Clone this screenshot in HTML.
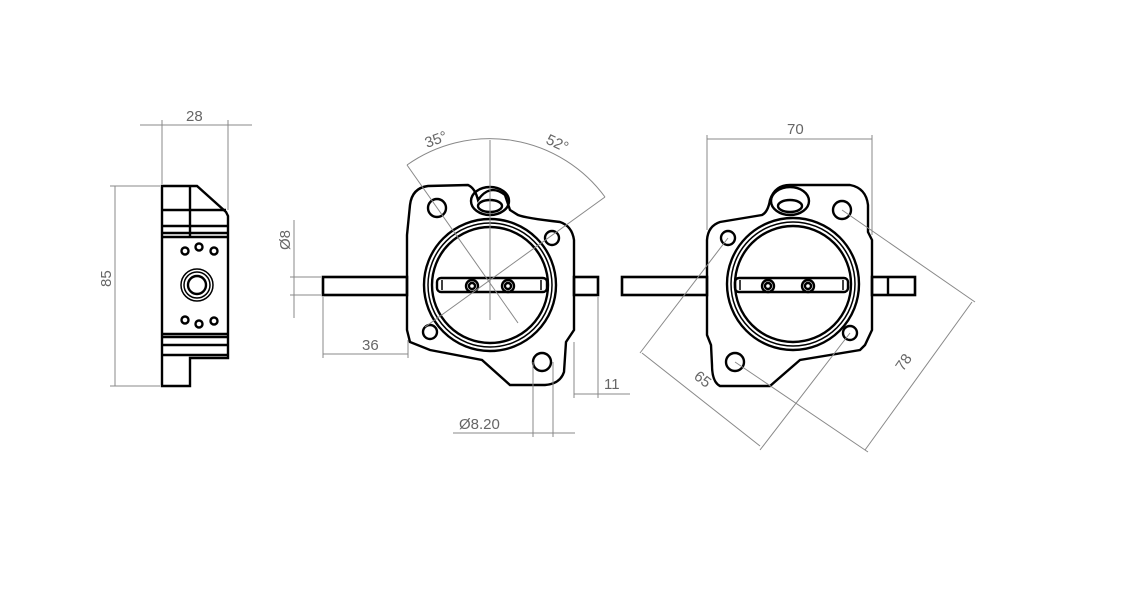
<!DOCTYPE html>
<html><head><meta charset="utf-8"><style>
html,body{margin:0;padding:0;background:#fff;}
svg{display:block}
text{font-family:"Liberation Sans",sans-serif;font-size:15px;fill:#666;}
.o{fill:none;stroke:#000;stroke-width:2.4;}
.d{fill:none;stroke:#888;stroke-width:1;}
</style></head><body>
<svg width="1134" height="600" viewBox="0 0 1134 600">
<!-- LEFT VIEW -->
<g class="o">
<path d="M162,186 L197,186 L226,212 L228,216 L228,358 L190,358 L190,386 L162,386 Z"/>
<line x1="190" y1="186" x2="190" y2="237"/>
<line x1="162" y1="210" x2="226" y2="210"/>
<line x1="162" y1="226" x2="228" y2="226"/>
<line x1="162" y1="233" x2="228" y2="233"/>
<line x1="162" y1="237" x2="228" y2="237"/>
<line x1="162" y1="334" x2="228" y2="334"/>
<line x1="162" y1="337" x2="228" y2="337"/>
<line x1="162" y1="345" x2="228" y2="345"/>
<line x1="162" y1="355" x2="228" y2="355"/>
<circle cx="185" cy="251" r="3.5"/><circle cx="199" cy="247" r="3.5"/><circle cx="214" cy="251" r="3.5"/>
<circle cx="185" cy="320" r="3.5"/><circle cx="199" cy="324" r="3.5"/><circle cx="214" cy="321" r="3.5"/>
<circle cx="197" cy="285" r="16" stroke-width="1.5"/><circle cx="197" cy="285" r="13" stroke-width="1.5"/><circle cx="197" cy="285" r="9"/>
</g>
<g class="d">
<line x1="140" y1="125" x2="252" y2="125"/>
<line x1="162" y1="120" x2="162" y2="184"/>
<line x1="228" y1="120" x2="228" y2="210"/>
<line x1="115" y1="186" x2="115" y2="386"/>
<line x1="110" y1="186" x2="160" y2="186"/>
<line x1="110" y1="386" x2="160" y2="386"/>
</g>
<text x="186" y="121">28</text>
<text transform="translate(111,287) rotate(-90)">85</text>

<!-- MIDDLE VIEW -->
<g class="o">
<path d="M407,235 L410,205 Q412,188 428,186 L468,185 Q475,188 478,200 Q490,183 505,195 L510,210 L518,215 Q525,218 560,222 Q572,226 574,240 L574,330 L566,342 L564,372 Q560,384 545,385 L510,385 L482,360 L430,350 L410,342 L407,330 Z"/>
<ellipse cx="490" cy="201" rx="19" ry="14"/>
<ellipse cx="490" cy="206" rx="12" ry="6"/>
<circle cx="490" cy="285" r="66"/>
<circle cx="490" cy="285" r="62" stroke-width="1.5"/>
<circle cx="490" cy="285" r="58"/>
<rect x="437" y="278" width="110" height="14" rx="4"/>
<line x1="442" y1="280" x2="442" y2="290" stroke-width="1.5"/>
<line x1="541" y1="280" x2="541" y2="290" stroke-width="1.5"/>
<circle cx="472" cy="286" r="6"/><circle cx="472" cy="286" r="3"/>
<circle cx="508" cy="286" r="6"/><circle cx="508" cy="286" r="3"/>
<circle cx="437" cy="208" r="9"/>
<circle cx="552" cy="238" r="7"/>
<circle cx="430" cy="332" r="7"/>
<circle cx="542" cy="362" r="9"/>
<rect x="323" y="277" width="84" height="18" stroke-width="2.6"/>
<rect x="574" y="277" width="24" height="18" stroke-width="2.6"/>
</g>
<g class="d">
<line x1="490" y1="140" x2="490" y2="320"/>
<line x1="407" y1="165" x2="518" y2="323"/>
<line x1="605" y1="197" x2="425" y2="327"/>
<path d="M407,165 A143,143 0 0 1 605,197"/>
<line x1="294" y1="220" x2="294" y2="318"/>
<line x1="290" y1="277" x2="321" y2="277"/>
<line x1="290" y1="295" x2="321" y2="295"/>
<line x1="323" y1="297" x2="323" y2="358"/>
<line x1="408" y1="340" x2="408" y2="358"/>
<line x1="323" y1="354" x2="408" y2="354"/>
<line x1="574" y1="342" x2="574" y2="398"/>
<line x1="598" y1="297" x2="598" y2="398"/>
<line x1="574" y1="394" x2="630" y2="394"/>
<line x1="533" y1="362" x2="533" y2="437"/>
<line x1="553" y1="362" x2="553" y2="437"/>
<line x1="453" y1="433" x2="575" y2="433"/>
</g>
<text transform="translate(290,250) rotate(-90)">Ø8</text>
<text transform="translate(427,148) rotate(-20)">35°</text>
<text transform="translate(545,143) rotate(25)">52°</text>
<text x="362" y="350">36</text>
<text x="604" y="389">11</text>
<text x="459" y="429">Ø8.20</text>

<!-- RIGHT VIEW -->
<g class="o">
<path d="M707,240 Q708,226 720,222 L762,215 Q768,212 770,200 Q775,185 790,185 L850,185 Q866,188 868,205 L868,232 L872,240 L872,330 L865,345 L860,350 L800,360 L770,386 L720,386 Q712,382 712,365 L711,345 L707,335 Z"/>
<ellipse cx="790" cy="201" rx="19" ry="14"/>
<ellipse cx="790" cy="206" rx="12" ry="6"/>
<circle cx="793" cy="284" r="66"/>
<circle cx="793" cy="284" r="62" stroke-width="1.5"/>
<circle cx="793" cy="284" r="58"/>
<rect x="735" y="278" width="113" height="14" rx="4"/>
<line x1="740" y1="280" x2="740" y2="290" stroke-width="1.5"/>
<line x1="843" y1="280" x2="843" y2="290" stroke-width="1.5"/>
<circle cx="768" cy="286" r="6"/><circle cx="768" cy="286" r="3"/>
<circle cx="808" cy="286" r="6"/><circle cx="808" cy="286" r="3"/>
<circle cx="728" cy="238" r="7"/>
<circle cx="842" cy="210" r="9"/>
<circle cx="735" cy="362" r="9"/>
<circle cx="850" cy="333" r="7"/>
<rect x="622" y="277" width="85" height="18" stroke-width="2.6"/>
<rect x="872" y="277" width="43" height="18" stroke-width="2.6"/>
<line x1="888" y1="277" x2="888" y2="295"/>
</g>
<g class="d">
<line x1="707" y1="139" x2="872" y2="139"/>
<line x1="707" y1="135" x2="707" y2="230"/>
<line x1="872" y1="135" x2="872" y2="235"/>
<line x1="728" y1="238" x2="640" y2="353"/>
<line x1="850" y1="333" x2="760" y2="450"/>
<line x1="642" y1="353" x2="760" y2="446"/>
<line x1="842" y1="210" x2="975" y2="302"/>
<line x1="735" y1="362" x2="868" y2="452"/>
<line x1="972" y1="302" x2="865" y2="450"/>
</g>
<text x="787" y="134">70</text>
<text transform="translate(693,378) rotate(38)">65</text>
<text transform="translate(903,372) rotate(-55)">78</text>
</svg>
</body></html>
